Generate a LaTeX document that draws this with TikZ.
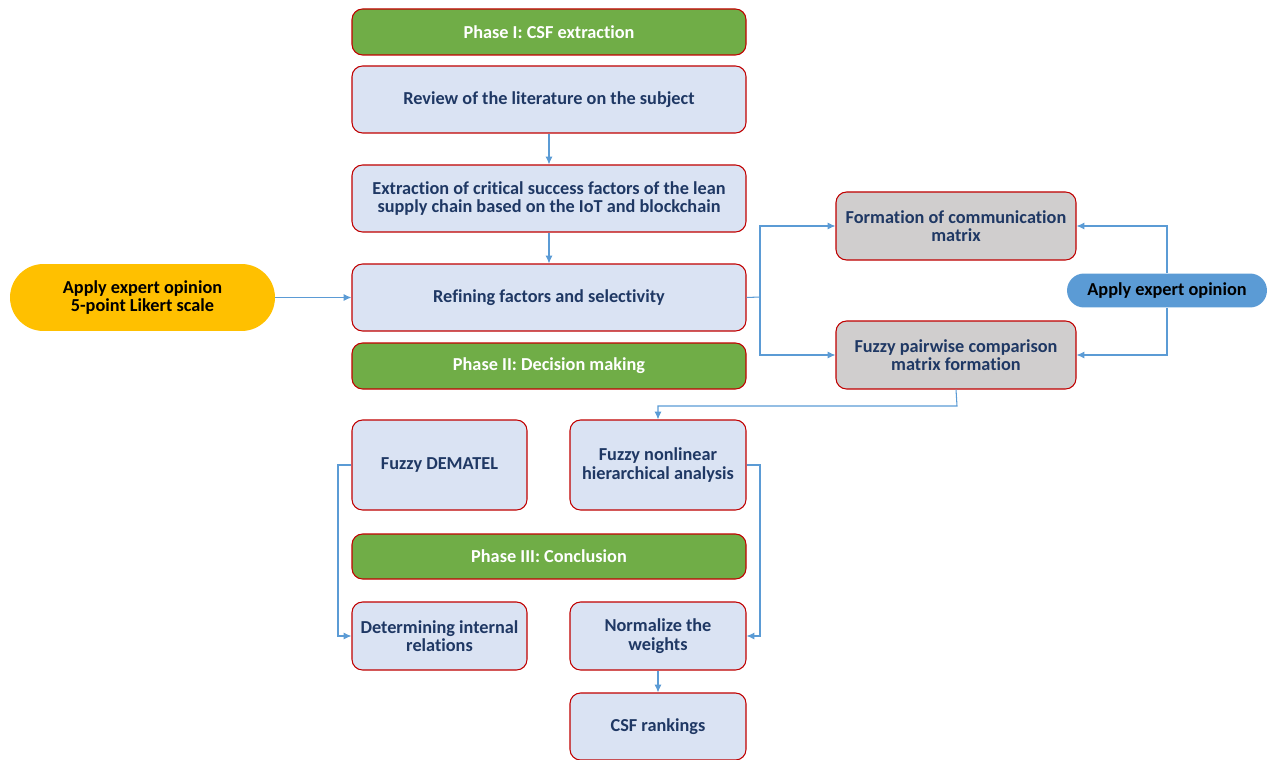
\documentclass[tikz,border=0pt]{standalone}
\usepackage{fontspec}
\setmainfont[RawFeature=-liga]{Carlito}
\usetikzlibrary{arrows.meta,shapes.misc}
\definecolor{phasegreen}{HTML}{70AD47}
\definecolor{boxblue}{HTML}{DAE3F3}
\definecolor{boxgray}{HTML}{D0CECE}
\definecolor{boxred}{HTML}{C00000}
\definecolor{navy}{HTML}{1F3864}
\definecolor{linkblue}{HTML}{5B9BD5}
\definecolor{gold}{HTML}{FFC000}
\tikzset{
  px/.style={x=0.02cm,y=-0.02cm},
  base/.style={rounded corners=6pt, draw=boxred, line width=0.6pt, font=\bfseries\fontsize{10.4}{10.6}\selectfont, align=center, inner sep=0pt},
  phasebox/.style={base, fill=phasegreen, text=white},
  stepbox/.style={base, fill=boxblue, text=navy},
  graybox/.style={base, fill=boxgray, text=navy},
  pill/.style={rounded rectangle, draw=none, font=\bfseries\fontsize{10.4}{10.6}\selectfont, align=center, text=black, inner sep=0pt},
  link/.style={draw=linkblue, line width=0.6pt, -{Latex[length=4.5pt,width=4pt]}},
  plainlink/.style={draw=linkblue, line width=0.6pt},
}
\begin{document}
\begin{tikzpicture}[px]
\useasboundingbox (0,0) rectangle (1267,760);
\def\mkbox#1#2#3#4#5#6#7{\node[#2, minimum width={(#5-#3)*0.02cm}, minimum height={(#6-#4)*0.02cm}] (#1) at ({(#3+#5)/2},{(#4+#6)/2}) {#7};}
\mkbox{ph1}{phasebox}{352}{9}{746}{55}{Phase I: CSF extraction}
\mkbox{rev}{stepbox}{352}{66}{746}{133}{Review of the literature on the subject}
\mkbox{ext}{stepbox}{352}{165}{746}{232}{Extraction of critical success factors of the lean\\supply chain based on the IoT and blockchain}
\mkbox{ref}{stepbox}{352}{264}{746}{331}{Refining factors and selectivity}
\mkbox{ph2}{phasebox}{352}{343}{746}{389}{Phase II: Decision making}
\mkbox{com}{graybox}{836}{192}{1076}{260}{Formation of communication\\matrix}
\mkbox{pair}{graybox}{836}{321}{1076}{389}{Fuzzy pairwise comparison\\matrix formation}
\mkbox{dem}{stepbox}{352}{420}{527}{510}{Fuzzy DEMATEL}
\mkbox{nonl}{stepbox}{570}{420}{746}{510}{Fuzzy nonlinear\\hierarchical analysis}
\mkbox{ph3}{phasebox}{352}{534}{746}{579}{Phase III: Conclusion}
\mkbox{det}{stepbox}{352}{602}{527}{670}{Determining internal\\relations}
\mkbox{norm}{stepbox}{570}{602}{746}{670}{Normalize the\\weights}
\mkbox{rank}{stepbox}{570}{693}{746}{760}{CSF rankings}
\node[pill, fill=gold, minimum width=5.3cm, minimum height=1.34cm] (expL) at (142.5,297.5) {Apply expert opinion\\5-point Likert scale};
\node[pill, fill=linkblue, minimum width=4.0cm, minimum height=0.68cm] (expR) at (1167,290.5) {Apply expert opinion};
% connectors
\draw[link] (rev.south) -- (ext.north);
\draw[link] (ext.south) -- (ref.north);
\draw[link] (expL.east) -- (ref.west);
\coordinate (j1) at (760,297);
\draw[plainlink] (ref.east) -- (j1);
\draw[link] (j1) |- (com.west);
\draw[link] (j1) |- (pair.west);
\draw[link] (expR.north) |- (com.east);
\draw[link] (expR.south) |- (pair.east);
\coordinate (j2) at (957,406);
\draw[link] (pair.south) -- (j2) -| (nonl.north);
\coordinate (j3) at (338,465);
\draw[link] (dem.west) -- (j3) |- (det.west);
\coordinate (j4) at (760,465);
\draw[link] (nonl.east) -- (j4) |- (norm.east);
\draw[link] (norm.south) -- (rank.north);
\end{tikzpicture}
\end{document}
